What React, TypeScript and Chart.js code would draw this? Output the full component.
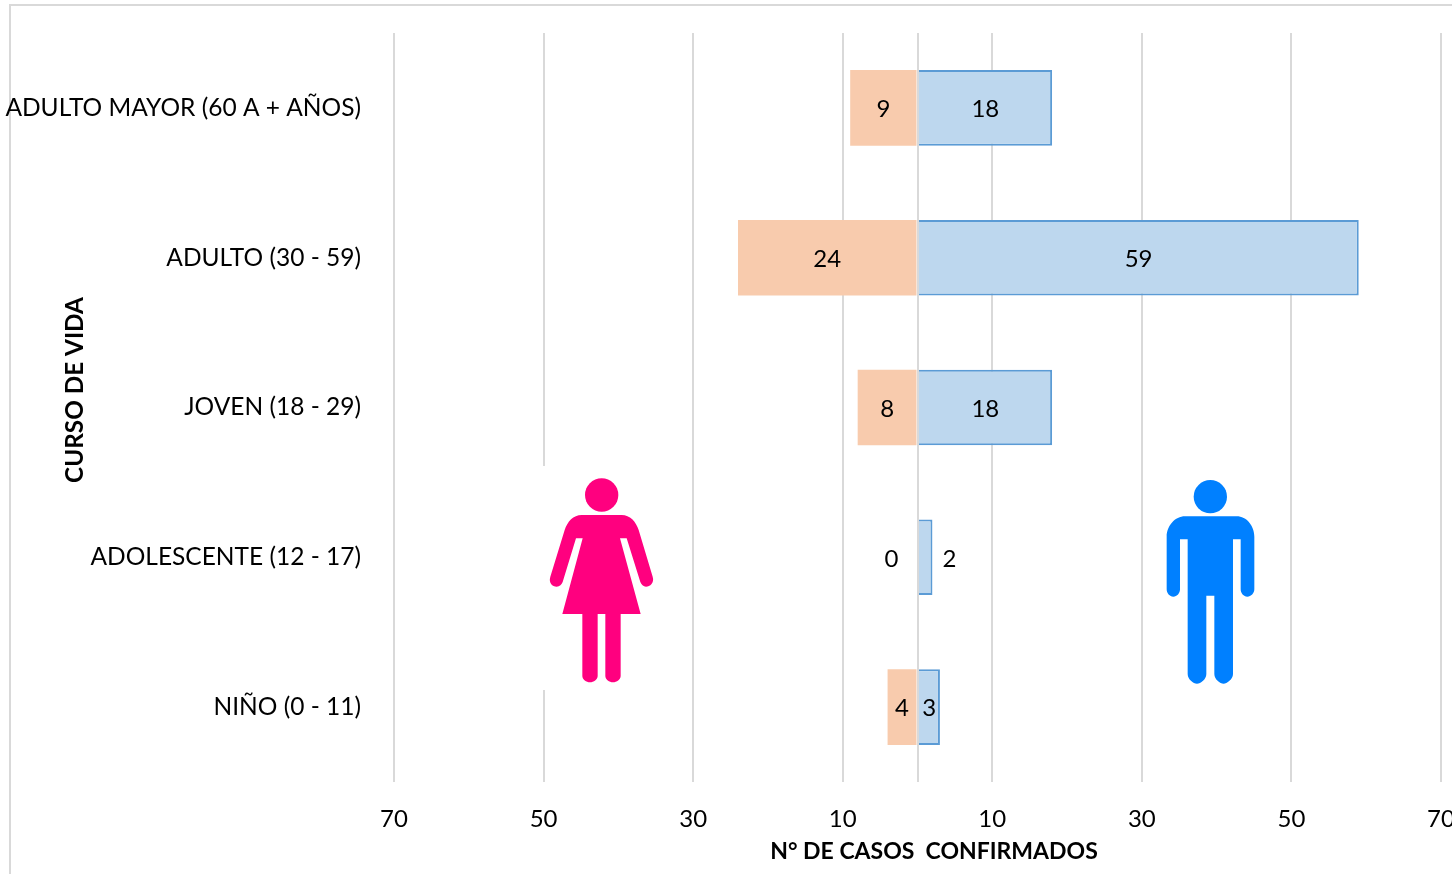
import React, { useEffect, useRef } from "react";
import { Chart, registerables } from "chart.js";

Chart.register(...registerables);

const categories = [
  "ADULTO MAYOR (60 A + AÑOS)",
  "ADULTO (30 - 59)",
  "JOVEN (18 - 29)",
  "ADOLESCENTE (12 - 17)",
  "NIÑO (0 - 11)",
];
const mujeres = [-9, -24, -8, 0, -4];
const hombres = [18, 59, 18, 2, 3];
const xTicks = [-70, -50, -30, -10, 0, 10, 30, 50, 70];
const xTitle = "N° DE CASOS  CONFIRMADOS";
const yTitle = "CURSO DE VIDA";

const FONT = "Lato";
const TEXT = "#000000";
const GRID = "#d9d9d9";

const womanPath =
  "M185 195 L305 195 C330 195 348 215 356 240 L398 380 C404 398 390 410 378 410 C370 410 364 404 361 396 L320 265 L300 265 L362 492 L302 492 L302 678 C302 688 290 697 279 697 C268 697 256 688 256 678 L256 492 L233 492 L233 678 C233 688 221 697 210 697 C199 697 187 688 187 678 L187 492 L127 492 L188 265 L168 265 L128 396 C125 404 119 410 110 410 C97 410 85 398 91 380 L134 240 C142 215 160 195 185 195 Z";
const manPath =
  "M165 199 L320 199 C350 199 373 228 373 260 L373 418 C373 430 363 440 352 440 C341 440 332 430 332 418 L332 268 L309 268 L309 672 C309 688 290 701 281 701 C270 701 253 688 253 672 L253 437 L229 437 L229 672 C229 688 212 701 201 701 C190 701 173 688 173 672 L173 268 L150 268 L150 418 C150 430 141 440 130 440 C119 440 110 430 110 418 L110 260 C110 228 135 199 165 199 Z";

const decorPlugin = {
  id: "decor",
  beforeDraw(chart: any) {
    const { ctx, width, height } = chart;
    ctx.save();
    ctx.fillStyle = "#ffffff";
    ctx.fillRect(0, 0, width, height);
    ctx.fillStyle = GRID;
    ctx.fillRect(9, 4, width - 9, 2);
    ctx.fillRect(9, 4, 2, height - 4);
    ctx.restore();
  },
  afterDatasetsDraw(chart: any) {
    const { ctx, chartArea, scales } = chart;
    const x0 = scales.x.getPixelForValue(0);
    ctx.save();
    ctx.fillStyle = GRID;
    ctx.fillRect(Math.round(x0) - 1, chartArea.top, 2, chartArea.bottom - chartArea.top);
    ctx.restore();
  },
  afterDraw(chart: any) {
    const { ctx } = chart;
    ctx.save();
    // picture boxes
    ctx.fillStyle = "#ffffff";
    ctx.fillRect(530, 466, 150, 224);

    ctx.save();
    ctx.translate(520, 450);
    ctx.scale(1 / 3, 1 / 3);
    ctx.fillStyle = "#ff007f";
    ctx.beginPath();
    ctx.arc(245, 135, 50, 0, Math.PI * 2);
    ctx.fill();
    ctx.fill(new Path2D(womanPath));
    ctx.restore();

    ctx.save();
    ctx.translate(1130, 450);
    ctx.scale(1 / 3, 1 / 3);
    ctx.fillStyle = "#0080ff";
    ctx.beginPath();
    ctx.arc(241, 140, 50, 0, Math.PI * 2);
    ctx.fill();
    ctx.fill(new Path2D(manPath));
    ctx.restore();

    // data labels
    ctx.fillStyle = TEXT;
    ctx.font = `24px ${FONT}`;
    ctx.textAlign = "center";
    ctx.textBaseline = "middle";
    chart.data.datasets.forEach((ds: any, di: number) => {
      const meta = chart.getDatasetMeta(di);
      meta.data.forEach((bar: any, i: number) => {
        const v = ds.data[i];
        let x = (bar.x + bar.base) / 2;
        if (v === 0) x = bar.base - 26;
        else if (Math.abs(v) <= 2) x = bar.x + 17;
        ctx.fillText(String(Math.abs(v)), x, bar.y + 1.5);
      });
    });

    // axis titles
    ctx.font = `bold 23px ${FONT}`;
    ctx.fillText(xTitle, 934, 851.5);
    ctx.font = `bold 24.3px ${FONT}`;
    ctx.translate(75, 390);
    ctx.rotate(-Math.PI / 2);
    ctx.fillText(yTitle, 0, 0);
    ctx.restore();
  },
};

export default function App() {
  const ref = useRef<HTMLCanvasElement>(null);
  useEffect(() => {
    const chart = new Chart(ref.current!, {
      type: "bar",
      data: {
        labels: categories,
        datasets: [
          {
            label: "Mujeres",
            data: mujeres,
            backgroundColor: "#f8cbad",
            borderWidth: 0,
            categoryPercentage: 1,
            barPercentage: 0.505,
          },
          {
            label: "Hombres",
            data: hombres,
            backgroundColor: "#bdd7ee",
            borderColor: "#5b9bd5",
            borderWidth: 2,
            categoryPercentage: 1,
            barPercentage: 0.505,
          },
        ],
      },
      options: {
        indexAxis: "y",
        animation: false,
        responsive: false,
        layout: { padding: { top: 33, right: 11, left: 0, bottom: 0 } },
        plugins: { legend: { display: false }, tooltip: { enabled: false } },
        scales: {
          x: {
            type: "linear",
            stacked: true,
            min: -70,
            max: 70,
            afterBuildTicks(scale: any) {
              scale.ticks = xTicks.map((value) => ({ value }));
            },
            afterFit(scale: any) {
              scale.height = 92;
              scale.paddingLeft = 0;
              scale.paddingRight = 0;
            },
            grid: { color: GRID, lineWidth: 2, drawTicks: false },
            border: { display: false },
            ticks: {
              autoSkip: false,
              maxRotation: 0,
              padding: 23,
              color: TEXT,
              font: { family: FONT, size: 24 },
              callback: (v: any) => (v === 0 ? "" : String(Math.abs(v))),
            },
          },
          y: {
            stacked: true,
            afterFit(scale: any) {
              scale.width = 394;
              scale.paddingTop = 0;
              scale.paddingBottom = 0;
            },
            grid: { display: false },
            border: { display: false },
            ticks: {
              padding: 25,
              color: TEXT,
              font: { family: FONT, size: 24.5 },
            },
          },
        },
      },
      plugins: [decorPlugin],
    } as any);
    return () => chart.destroy();
  }, []);
  return (
    <canvas
      ref={ref}
      width={1452}
      height={874}
      style={{ position: "fixed", left: 0, top: 0, width: 1452, height: 874 }}
    />
  );
}
